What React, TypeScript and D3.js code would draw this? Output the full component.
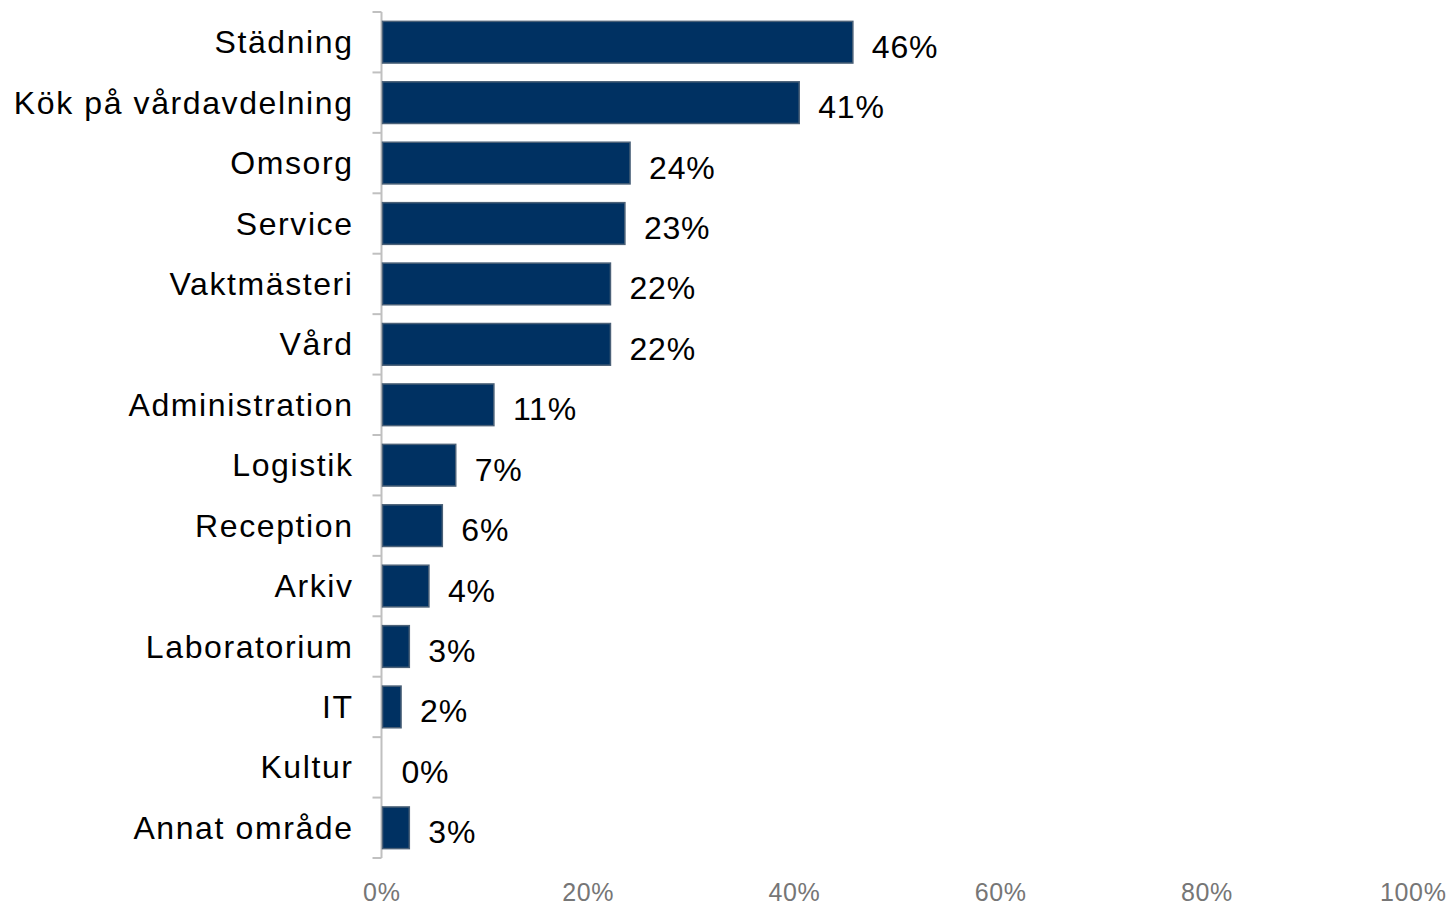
import React from "react";
import * as d3 from "d3";

const categories = [
  "Städning",
  "Kök på vårdavdelning",
  "Omsorg",
  "Service",
  "Vaktmästeri",
  "Vård",
  "Administration",
  "Logistik",
  "Reception",
  "Arkiv",
  "Laboratorium",
  "IT",
  "Kultur",
  "Annat område",
];
const values = [45.6, 40.4, 24.0, 23.5, 22.1, 22.1, 10.8, 7.1, 5.8, 4.5, 2.6, 1.8, 0, 2.6];
const valueLabels = ["46%", "41%", "24%", "23%", "22%", "22%", "11%", "7%", "6%", "4%", "3%", "2%", "0%", "3%"];
const xTicks = [0, 20, 40, 60, 80, 100];

export default function App() {
  const W = 1450;
  const H = 905;
  const x0 = 381.5;
  const x1 = 1413;
  const y0 = 12;
  const y1 = 858;
  const x = d3.scaleLinear().domain([0, 100]).range([x0, x1]);
  const y = d3.scaleBand<string>().domain(categories).range([y0, y1]).paddingInner(0.31).paddingOuter(0.155);
  const step = y.step();
  const font = "Arial, 'Liberation Sans', sans-serif";
  return (
    <svg width={W} height={H} style={{ position: "absolute", left: 0, top: 0, background: "#fff" }}>
      {/* axis */}
      <line x1={x0} x2={x0} y1={y0} y2={y1} stroke="#c0c0c0" strokeWidth={2} />
      {d3.range(categories.length + 1).map((i) => (
        <line key={"t" + i} x1={x0 - 9} x2={x0} y1={y0 + i * step} y2={y0 + i * step} stroke="#c0c0c0" strokeWidth={2} />
      ))}
      {categories.map((c, i) => {
        const by = y(c)!;
        const bh = y.bandwidth();
        const w = x(values[i]) - x(0);
        return (
          <g key={c}>
            {values[i] > 0 && (
              <rect x={x(0) + 1} y={by} width={w} height={bh} fill="#003162" stroke="#4b6178" strokeWidth={1.5} />
            )}
            <text x={353.6} y={by + bh / 2 + 11} textAnchor="end" fontFamily={font} fontSize={32} letterSpacing={1.6} fill="#000">
              {c}
            </text>
            <text x={x(values[i]) + 20} y={by + bh / 2 + 15.5} fontFamily={font} fontSize={32} letterSpacing={0.8} fill="#000">
              {valueLabels[i]}
            </text>
          </g>
        );
      })}
      {xTicks.map((t) => (
        <text key={t} x={x(t) + 0.3} y={901} textAnchor="middle" fontFamily={font} fontSize={25} letterSpacing={0.6} fill="#767676">
          {t}%
        </text>
      ))}
    </svg>
  );
}
